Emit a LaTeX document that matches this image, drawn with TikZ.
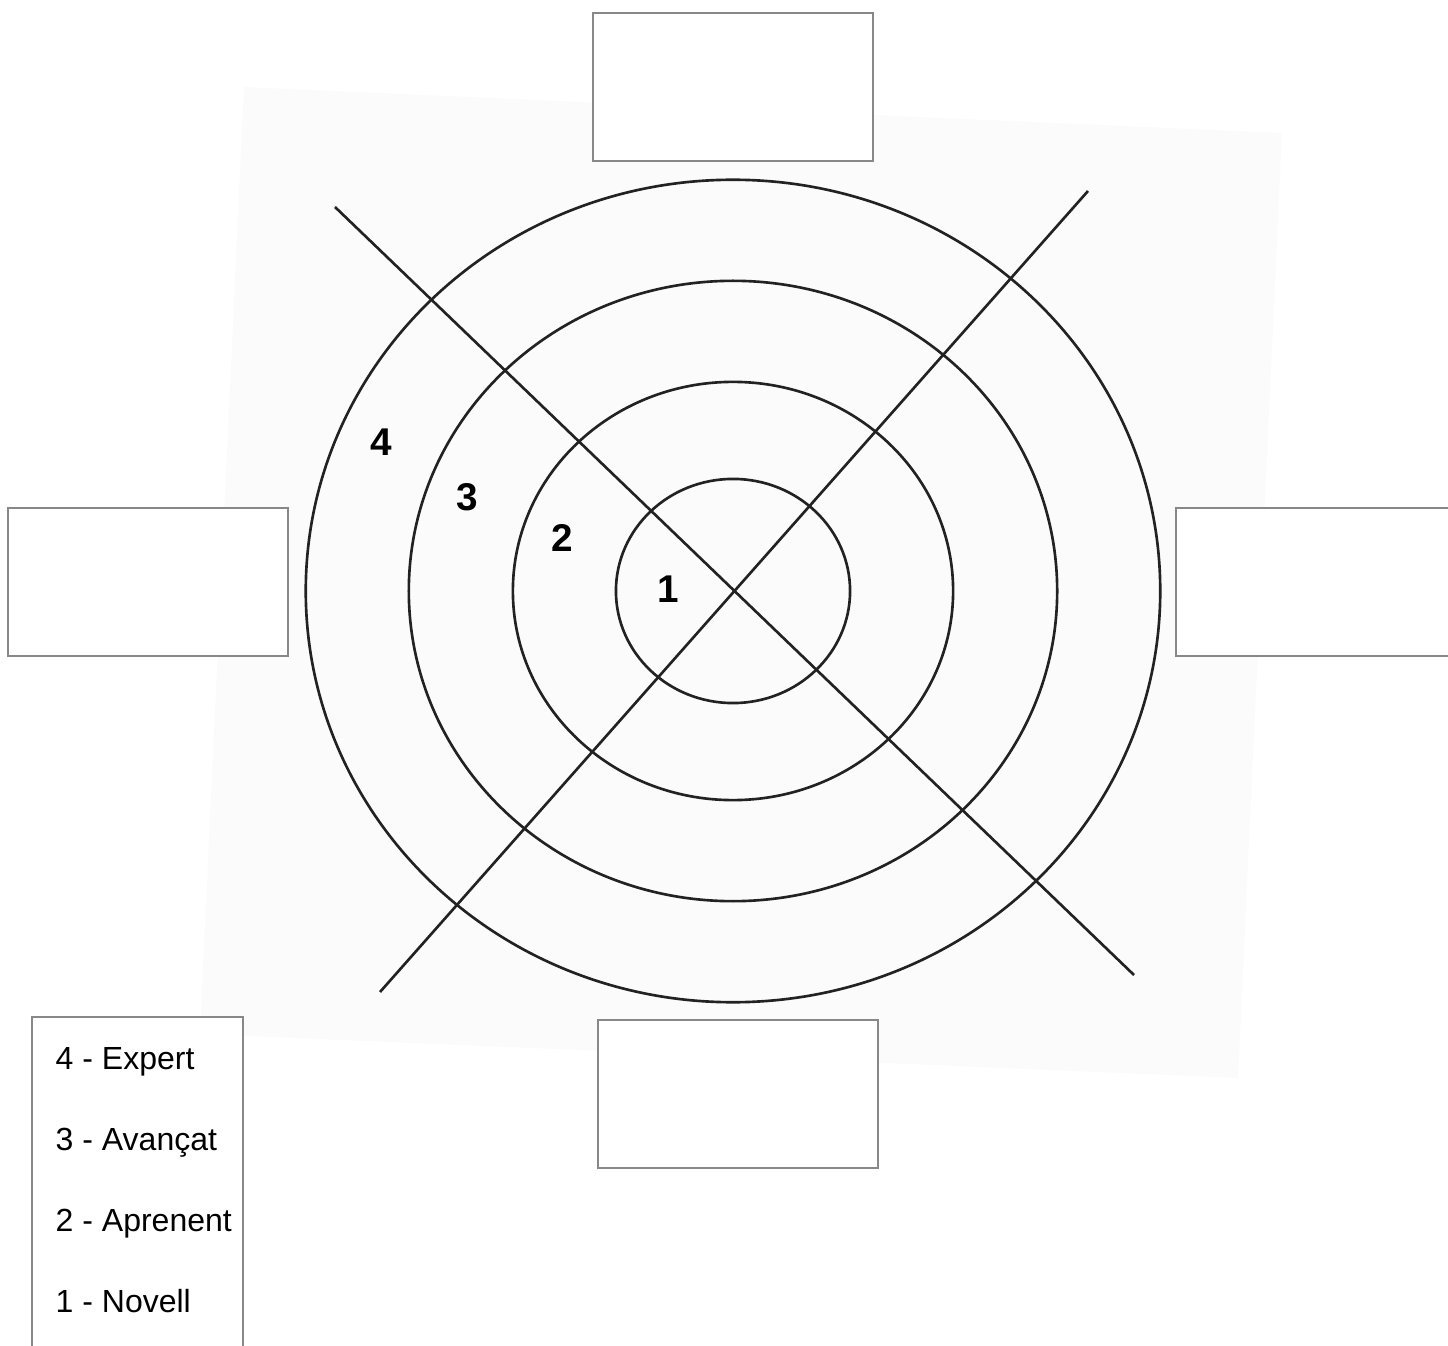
\documentclass[tikz,border=0pt]{standalone}
\usepackage{fontspec}
\setmainfont{Liberation Sans}
\usepackage{tikz}
\usetikzlibrary{calc,positioning}

\definecolor{boxgray}{HTML}{888888}
\definecolor{ringline}{HTML}{222222}
\definecolor{sheet}{HTML}{FBFBFB}

\begin{document}
\begin{tikzpicture}[
        x=0.01cm, y=-0.01cm,
        blank/.style={
            rectangle,
            draw=boxgray,
            fill=white,
            line width=0.55pt,
            minimum width=2.8cm,
            minimum height=1.48cm
        },
        legendbox/.style={
            rectangle,
            draw=boxgray,
            fill=white,
            line width=0.55pt,
            minimum width=2.11cm,
            minimum height=4.2cm,
            anchor=north west
        },
        ring/.style={
            draw=ringline,
            line width=0.75pt
        },
        level/.style={
            font=\fontsize{11}{13}\selectfont\bfseries,
            inner sep=0pt
        },
        entry/.style={
            font=\fontsize{9.1}{11}\selectfont,
            anchor=base west,
            inner sep=0pt
        }
    ]

        \clip (0,0) rectangle (1448,1346);

        % scanned sheet behind the target
        \fill[sheet] (244,87) -- (1282,133) -- (1238,1078) -- (200,1034) -- cycle;

        \coordinate (c) at (733,591);

        \draw[ring] (c) ellipse [x radius=4.27cm, y radius=4.11cm];
        \draw[ring] (c) ellipse [x radius=3.24cm, y radius=3.10cm];
        \draw[ring] (c) ellipse [x radius=2.20cm, y radius=2.09cm];
        \draw[ring] (c) ellipse [x radius=1.17cm, y radius=1.12cm];

        \coordinate (nw) at (335,207);
        \coordinate (se) at (1134,975);
        \coordinate (ne) at (1088,191);
        \coordinate (sw) at (380,992);
        \draw[ring] (nw) -- (se);
        \draw[ring] (ne) -- (sw);

        \node[level] (l4) at (381,442) {4};
        \node[level] (l3) at (467,497) {3};
        \node[level] (l2) at (562,538) {2};
        \node[level] (l1) at (668,589) {1};

        \node[blank] (top) at (733,87) {};
        \node[blank] (left) at (148,582) {};
        \node[blank] (right) at (1316,582) {};
        \node[blank] (bottom) at (738,1094) {};

        \node[legendbox] (legend) at (31,1016) {};
        \foreach \y/\txt in {1069/4 - Expert, 1150/3 - Avançat, 1231/2 - Aprenent, 1312/1 - Novell} {
            \node[entry] at (55,\y) {\txt};
        }

    \end{tikzpicture}
\end{document}
